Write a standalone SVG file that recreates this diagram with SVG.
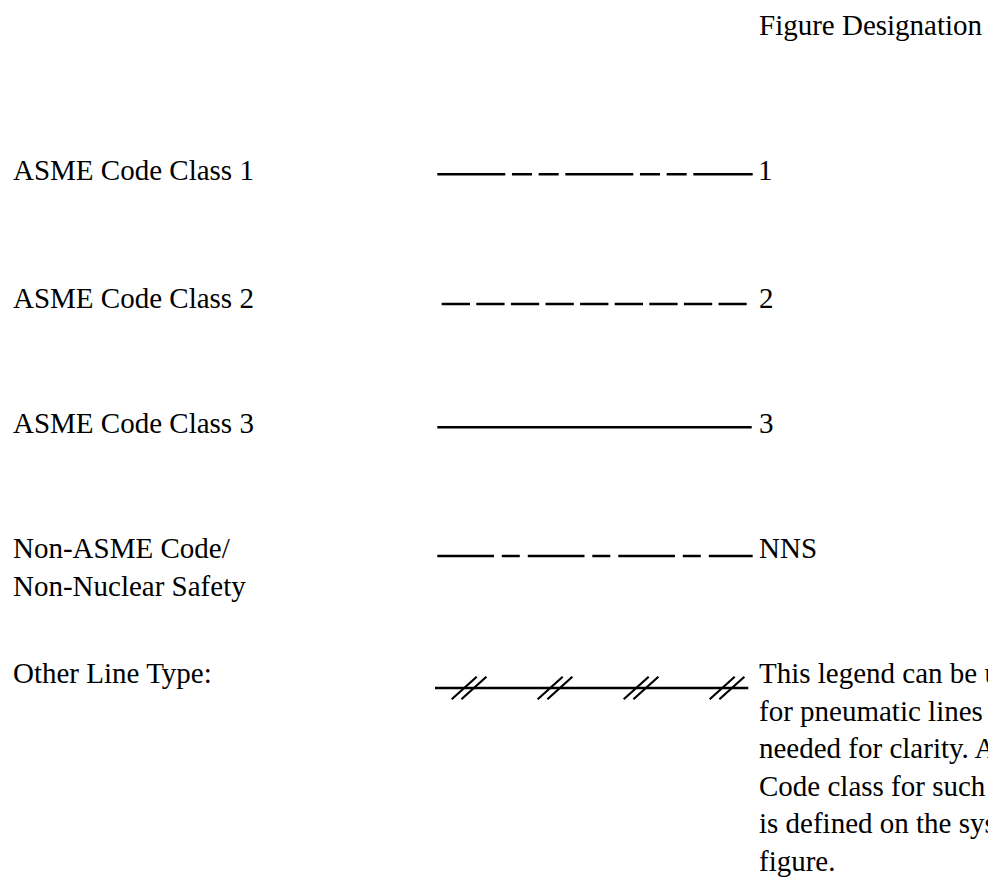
<svg xmlns="http://www.w3.org/2000/svg" width="988" height="882" viewBox="0 0 988 882">
<style>
  text { font-family: "Liberation Serif", "Times New Roman", serif; font-size: 29px; fill: #000; }
  .ln { stroke: #000; stroke-width: 2.6; fill: none; }
  .c1 { stroke-dasharray: 68 6.67 20 6.67 20 6.67; }
  .c2 { stroke-dasharray: 28.3 6.3; }
  .nns { stroke-dasharray: 56.7 7.8 18 8; }
  .hatch { stroke: #000; stroke-width: 2.2; fill: none; }
</style>
<rect x="0" y="0" width="988" height="882" fill="#fff"/>
<g id="header">
  <text x="759" y="35">Figure Designation</text>
</g>
<g id="row-class1">
  <text x="13" y="180">ASME Code Class 1</text>
  <line class="ln c1" x1="437.3" y1="174.3" x2="752.7" y2="174.3"/>
  <text x="758" y="180">1</text>
</g>
<g id="row-class2">
  <text x="13" y="308">ASME Code Class 2</text>
  <line class="ln c2" x1="441.7" y1="304" x2="746.7" y2="304"/>
  <text x="759" y="308">2</text>
</g>
<g id="row-class3">
  <text x="13" y="433">ASME Code Class 3</text>
  <line class="ln" x1="437.3" y1="427.3" x2="751.7" y2="427.3"/>
  <text x="759" y="433">3</text>
</g>
<g id="row-nns">
  <text x="13" y="558">Non-ASME Code/</text>
  <text x="13" y="596">Non-Nuclear Safety</text>
  <line class="ln nns" x1="437.3" y1="556" x2="752.7" y2="556"/>
  <text x="759" y="558">NNS</text>
</g>
<g id="row-other">
  <text x="13" y="683">Other Line Type:</text>
  <line class="ln" x1="435" y1="688" x2="748.3" y2="688"/>
  <path class="hatch" d="M451.7,699.3 L476.7,676.7 M461.4,699.3 L486.4,676.7 M537.7,699.3 L562.7,676.7 M547.4,699.3 L572.4,676.7 M623.7,699.3 L648.7,676.7 M633.4,699.3 L658.4,676.7 M709.7,699.3 L734.7,676.7 M719.4,699.3 L744.4,676.7"/>
  <text x="759" y="683">This legend can be used</text>
  <text x="759" y="720.5">for pneumatic lines</text>
  <text x="759" y="758">needed for clarity. ASME</text>
  <text x="759" y="795.5">Code class for such</text>
  <text x="759" y="833">is defined on the system</text>
  <text x="759" y="870.5">figure.</text>
</g>
</svg>
